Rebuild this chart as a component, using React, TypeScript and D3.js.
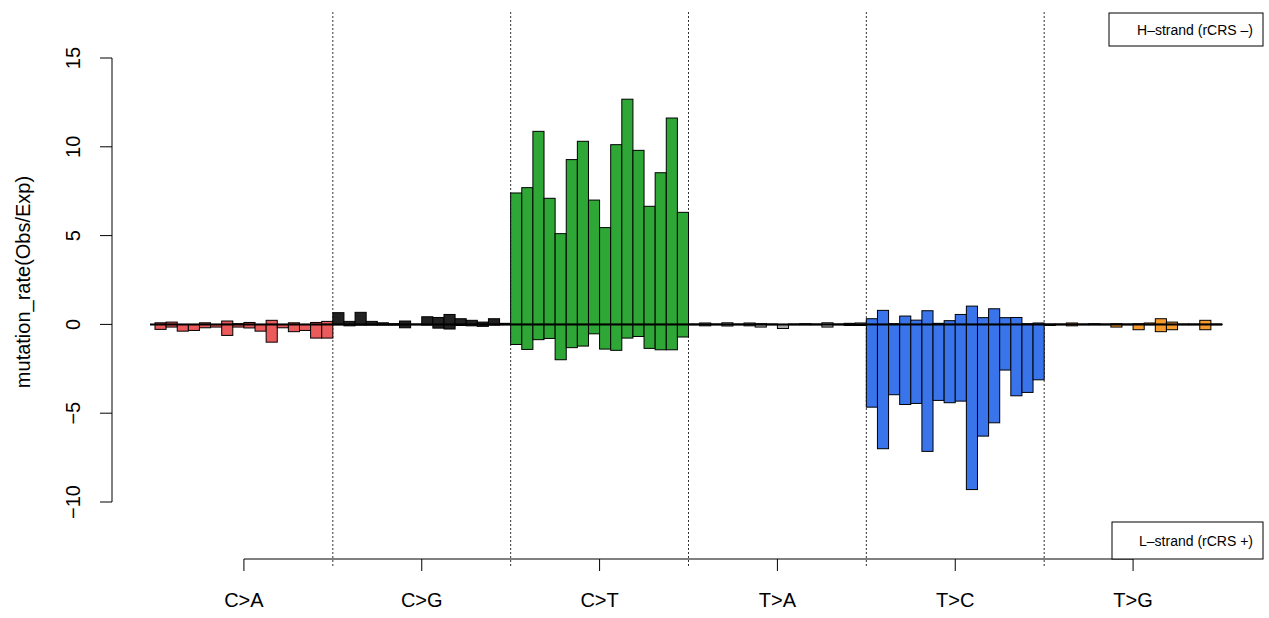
import React from "react";
import * as d3 from "d3";

const categories = ["C>A", "C>G", "C>T", "T>A", "T>C", "T>G"];
const colors = ["#EC5B5B", "#222222", "#2FA736", "#A9A9A9", "#3A74EA", "#F69A2E"];

// H-strand (positive) values, 16 contexts per category
const hCA = [0.09, 0.13, 0.0, 0.0, 0.09, 0.0, 0.19, 0.04, 0.11, 0.0, 0.23, 0.0, 0.09, 0.0, 0.11, 0.17];
const hCG = [0.66, 0.17, 0.68, 0.17, 0.09, 0.04, 0.19, 0.02, 0.43, 0.39, 0.56, 0.32, 0.23, 0.13, 0.32, 0.06];
const hCT = [7.4, 7.7, 10.87, 7.1, 5.11, 9.28, 10.31, 7.0, 5.45, 10.12, 12.68, 9.8, 6.65, 8.54, 11.62, 6.31];
const hTA = [0.02, 0.08, 0.02, 0.09, 0.02, 0.08, 0.04, 0.02, 0.0, 0.02, 0.04, 0.02, 0.09, 0.02, 0.06, 0.08];
const hTC = [0.32, 0.79, 0.04, 0.47, 0.24, 0.77, 0.06, 0.21, 0.56, 1.03, 0.38, 0.88, 0.38, 0.39, 0.04, 0.08];
const hTG = [0.02, 0.02, 0.08, 0.02, 0.04, 0.02, 0.04, 0.02, 0.04, 0.08, 0.32, 0.13, 0.02, 0.02, 0.23, 0.02];

// L-strand (negative) values
const lCA = [-0.28, -0.15, -0.38, -0.34, -0.19, -0.15, -0.62, -0.15, -0.2, -0.38, -1.0, -0.19, -0.41, -0.34, -0.77, -0.77];
const lCG = [-0.02, -0.08, -0.04, -0.04, -0.04, -0.04, -0.19, -0.02, -0.04, -0.21, -0.26, -0.06, -0.08, -0.11, -0.04, -0.02];
const lCT = [-1.13, -1.41, -0.86, -0.79, -1.99, -1.31, -1.22, -0.53, -1.39, -1.46, -0.77, -0.68, -1.35, -1.43, -1.43, -0.71];
const lTA = [-0.02, -0.08, -0.02, -0.09, -0.02, -0.08, -0.15, -0.02, -0.23, -0.02, -0.02, -0.02, -0.15, -0.02, -0.06, -0.06];
const lTC = [-4.66, -7.0, -3.96, -4.51, -4.45, -7.15, -4.28, -4.41, -4.32, -9.3, -6.29, -5.54, -2.57, -4.02, -3.83, -3.12];
const lTG = [-0.06, -0.02, -0.08, -0.02, -0.02, -0.02, -0.15, -0.02, -0.3, -0.02, -0.41, -0.3, -0.02, -0.02, -0.3, -0.02];

const hSeries = [hCA, hCG, hCT, hTA, hTC, hTG];
const lSeries = [lCA, lCG, lCT, lTA, lTC, lTG];

const yTicks = [-10, -5, 0, 5, 10, 15];

const FONT = "'Liberation Sans', Arial, Helvetica, sans-serif";

export default function App() {
  const width = 1269;
  const height = 618;
  const nPer = 16;
  const n = categories.length * nPer;
  const x = d3.scaleBand<number>().domain(d3.range(n)).range([155, 1222]).padding(0);
  const y = d3.scaleLinear().domain([-10, 15]).range([502, 58]);
  const bw = x.bandwidth();

  const bars: JSX.Element[] = [];
  categories.forEach((c, gi) => {
    for (let j = 0; j < nPer; j++) {
      const idx = gi * nPer + j;
      const hv = hSeries[gi][j];
      const lv = lSeries[gi][j];
      bars.push(
        <rect key={`h${idx}`} x={x(idx)} y={y(hv)} width={bw} height={y(0) - y(hv)}
          fill={colors[gi]} stroke="#000" strokeWidth={1} />
      );
      bars.push(
        <rect key={`l${idx}`} x={x(idx)} y={y(0)} width={bw} height={y(lv) - y(0)}
          fill={colors[gi]} stroke="#000" strokeWidth={1} />
      );
    }
  });

  const groupCenters = categories.map((_, gi) => (x(gi * nPer)! + x(gi * nPer + nPer - 1)! + bw) / 2);
  const boundaries = d3.range(1, categories.length).map((gi) => x(gi * nPer)!);

  return (
    <svg width={width} height={height} style={{ position: "absolute", left: 0, top: 0, background: "#fff" }}
      fontFamily={FONT}>
      {boundaries.map((bx, i) => (
        <line key={`v${i}`} x1={bx} x2={bx} y1={12} y2={566} stroke="#333" strokeWidth={1} strokeDasharray="2,2" />
      ))}
      {bars}
      <line x1={150} x2={1222} y1={y(0)} y2={y(0)} stroke="#000" strokeWidth={2} />

      {/* y axis */}
      <line x1={112} x2={112} y1={y(15)} y2={y(-10)} stroke="#000" strokeWidth={1} />
      {yTicks.map((t) => (
        <g key={`yt${t}`}>
          <line x1={100} x2={112} y1={y(t)} y2={y(t)} stroke="#000" strokeWidth={1} />
          <text transform={`translate(80,${y(t)}) rotate(-90)`} textAnchor="middle" fontSize={20} fill="#000">
            {t < 0 ? `\u2212${-t}` : `${t}`}
          </text>
        </g>
      ))}
      <text transform={`translate(30,282) rotate(-90)`} textAnchor="middle" fontSize={20} fill="#000">
        mutation_rate(Obs/Exp)
      </text>

      {/* x axis */}
      <line x1={groupCenters[0]} x2={groupCenters[groupCenters.length - 1]} y1={559} y2={559} stroke="#000" strokeWidth={1} />
      {categories.map((c, i) => (
        <g key={`xt${c}`}>
          <line x1={groupCenters[i]} x2={groupCenters[i]} y1={559} y2={571} stroke="#000" strokeWidth={1} />
          <text x={groupCenters[i]} y={607} textAnchor="middle" fontSize={20} fill="#000">{c}</text>
        </g>
      ))}

      {/* legends */}
      <rect x={1109} y={13} width={154} height={33} fill="#fff" stroke="#000" strokeWidth={1} />
      <text x={1137} y={35} fontSize={14} fill="#000">H{"\u2013"}strand (rCRS {"\u2013"})</text>
      <rect x={1112} y={522} width={151} height={37} fill="#fff" stroke="#000" strokeWidth={1} />
      <text x={1139} y={546} fontSize={14} fill="#000">L{"\u2013"}strand (rCRS +)</text>
    </svg>
  );
}
